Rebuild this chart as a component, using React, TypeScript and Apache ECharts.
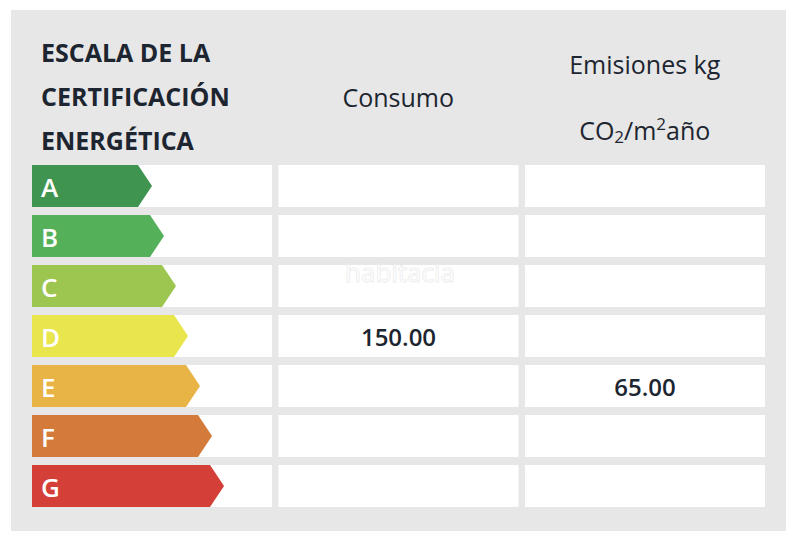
import React, { useEffect, useRef } from "react";
import * as echarts from "echarts";

// ---- data ----
const ratings = ["A", "B", "C", "D", "E", "F", "G"];
const ratingColors = ["#3f9450", "#55b05a", "#9dc651", "#e9e54c", "#e8b445", "#d47b3b", "#d43f37"];
const columns = ["Escala", "Consumo", "Emisiones"];
const headerTitle = ["ESCALA DE LA", "CERTIFICACIÓN", "ENERGÉTICA"];
const consumoRating = ["D"];
const consumoValues = [150.0];
const emisionesRating = ["E"];
const emisionesValues = [65.0];

const FONT = "'Open Sans', 'Noto Sans', sans-serif";
const DARK = "#1d2530";

export default function App() {
  const ref = useRef<HTMLDivElement>(null);

  useEffect(() => {
    document.body.style.margin = "0";
    if (!ref.current) return;
    const chart = echarts.init(ref.current, undefined, { renderer: "svg" });

    const cellData: number[][] = [];
    for (let c = 0; c < columns.length; c++) {
      for (let r = 0; r < ratings.length; r++) cellData.push([c, r]);
    }
    const arrowData = ratings.map((_, i) => [0, i]);
    const valueData = [
      ...consumoRating.map((r, i) => [1, ratings.indexOf(r), consumoValues[i]]),
      ...emisionesRating.map((r, i) => [2, ratings.indexOf(r), emisionesValues[i]]),
    ];

    const GAP_X = 6.5;
    const GAP_Y = 8;

    chart.setOption({
      animation: false,
      backgroundColor: "#ffffff",
      title: {
        text: headerTitle.join("\n"),
        left: 41,
        top: 30,
        padding: 0,
        textStyle: {
          fontFamily: FONT,
          fontSize: 25,
          fontWeight: "bold",
          lineHeight: 44,
          color: DARK,
        },
      },
      graphic: [
        {
          type: "rect",
          z: -10,
          silent: true,
          shape: { x: 11, y: 10, width: 775, height: 521 },
          style: { fill: "#e7e7e7" },
        },
        {
          type: "text",
          z: 100,
          silent: true,
          x: 400,
          y: 272,
          style: {
            text: "habitacia",
            fontFamily: FONT,
            fontSize: 26,
            align: "center",
            verticalAlign: "middle",
            fill: "rgba(255,255,255,0.6)",
            stroke: "rgba(215,215,215,0.6)",
            lineWidth: 1,
          },
        },
      ],
      grid: { left: 32, top: 165, width: 739.5, height: 350 },
      xAxis: {
        type: "category",
        position: "top",
        data: columns,
        axisLine: { show: false },
        axisTick: { show: false },
        splitLine: { show: false },
        axisLabel: {
          interval: 0,
          hideOverlap: false,
          margin: 20,
          padding: [0, 7, 0, 0],
          color: DARK,
          fontFamily: FONT,
          formatter: (_v: string, idx: number) => {
            if (idx === 0) return "";
            if (idx === 1) return "{c|Consumo}";
            return "{e|Emisiones kg}\n{m|CO}{sub|2}{m|/m}{sup|2}{m|año}";
          },
          rich: {
            c: { fontSize: 25, lineHeight: 96, fontFamily: FONT, color: DARK, verticalAlign: "middle" },
            e: { fontSize: 25, lineHeight: 102, fontFamily: FONT, color: DARK, verticalAlign: "middle" },
            m: { fontSize: 25, lineHeight: 30, fontFamily: FONT, color: DARK, verticalAlign: "middle" },
            sub: { fontSize: 17, lineHeight: 14, fontFamily: FONT, color: DARK, verticalAlign: "bottom" },
            sup: { fontSize: 17, lineHeight: 14, fontFamily: FONT, color: DARK, verticalAlign: "top" },
          },
        },
      },
      yAxis: {
        type: "category",
        data: ratings,
        inverse: true,
        show: false,
      },
      series: [
        {
          type: "custom",
          name: "cells",
          silent: true,
          encode: { x: 0, y: 1 },
          data: cellData,
          renderItem: (_p: any, api: any) => {
            const pt = api.coord([api.value(0), api.value(1)]);
            const s = api.size([1, 1]);
            return {
              type: "rect",
              shape: {
                x: pt[0] - s[0] / 2,
                y: pt[1] - s[1] / 2,
                width: s[0] - GAP_X,
                height: s[1] - GAP_Y,
              },
              style: { fill: "#ffffff" },
            };
          },
        },
        {
          type: "custom",
          name: "arrows",
          silent: true,
          encode: { x: 0, y: 1 },
          data: arrowData,
          renderItem: (_p: any, api: any) => {
            const i = api.value(1);
            const pt = api.coord([api.value(0), i]);
            const s = api.size([1, 1]);
            const left = pt[0] - s[0] / 2;
            const top = pt[1] - s[1] / 2;
            const h = s[1] - GAP_Y;
            const len = s[0] * (0.43 + 0.0487 * i);
            const tip = h / 3;
            return {
              type: "group",
              children: [
                {
                  type: "polygon",
                  shape: {
                    points: [
                      [left, top],
                      [left + len, top],
                      [left + len + tip, top + h / 2],
                      [left + len, top + h],
                      [left, top + h],
                    ],
                  },
                  style: { fill: ratingColors[i] },
                },
                {
                  type: "text",
                  x: left + 9,
                  y: top + h / 2 + 1,
                  style: {
                    text: ratings[i],
                    fontFamily: FONT,
                    fontSize: 26,
                    fontWeight: 600,
                    fill: "#ffffff",
                    align: "left",
                    verticalAlign: "middle",
                  },
                },
              ],
            };
          },
        },
        {
          type: "custom",
          name: "values",
          silent: true,
          encode: { x: 0, y: 1 },
          data: valueData,
          renderItem: (_p: any, api: any) => {
            const pt = api.coord([api.value(0), api.value(1)]);
            return {
              type: "text",
              x: pt[0] - GAP_X / 2,
              y: pt[1] - GAP_Y / 2,
              style: {
                text: Number(api.value(2)).toFixed(2),
                fontFamily: FONT,
                fontSize: 24,
                fontWeight: 600,
                fill: DARK,
                align: "center",
                verticalAlign: "middle",
              },
            };
          },
        },
      ],
    });

    return () => chart.dispose();
  }, []);

  return <div ref={ref} style={{ width: 800, height: 546 }} />;
}
